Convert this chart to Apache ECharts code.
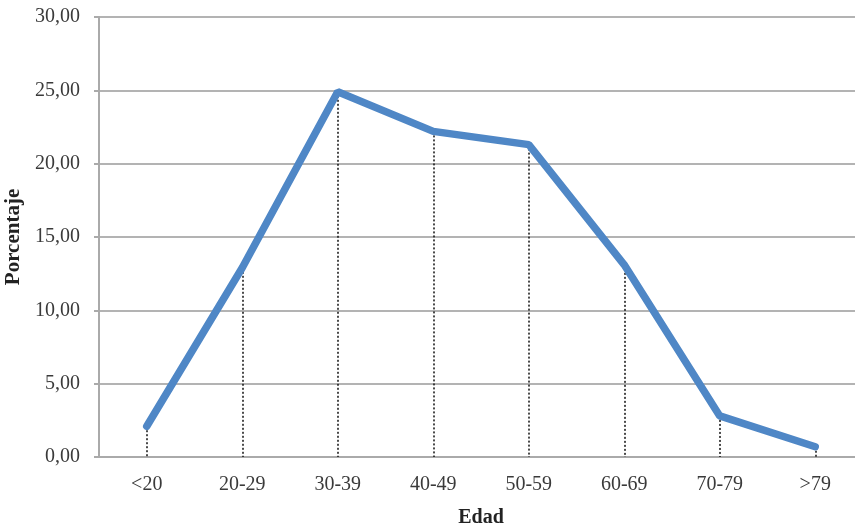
<!DOCTYPE html>
<html>
<head>
<meta charset="utf-8">
<script src="https://cdn.jsdelivr.net/npm/echarts@6/dist/echarts.min.js"></script>
<style>
  html, body { margin: 0; padding: 0; background: #fff; }
  #chart { width: 855px; height: 526px; }
</style>
</head>
<body>
<div id="chart"></div>
<script>
// Age groups and share of cases (%)
const categories = ['<20', '20-29', '30-39', '40-49', '50-59', '60-69', '70-79', '>79'];
const percentages = [2.1, 12.9, 24.9, 22.2, 21.3, 13.1, 2.8, 0.7];
const yTicks = { min: 0, max: 30, interval: 5 };

const font = '"Liberation Serif", "Times New Roman", serif';

// Dotted drop lines from each point down to the category axis
const dropLines = percentages.map((v, i) => [
  { coord: [i, v] },
  { coord: [i, 0] }
]);

const chart = echarts.init(document.getElementById('chart'), null, { renderer: 'canvas' });
chart.setOption({
  animation: false,
  backgroundColor: '#ffffff',
  grid: { left: 99, top: 17, bottom: 69, right: -8, containLabel: false, outerBoundsMode: 'none' },
  xAxis: {
    type: 'category',
    data: categories,
    boundaryGap: true,
    name: 'Edad',
    nameLocation: 'middle',
    nameGap: 51,
    nameTextStyle: { fontFamily: font, fontWeight: 'bold', fontSize: 20, color: '#222' },
    axisLine: { lineStyle: { color: '#aaaaaa', width: 2 } },
    axisTick: { show: false },
    axisLabel: { fontFamily: font, fontSize: 20, color: '#3a3a3a', margin: 18 },
    splitLine: { show: false }
  },
  yAxis: {
    type: 'value',
    min: yTicks.min,
    max: yTicks.max,
    interval: yTicks.interval,
    name: 'Porcentaje',
    nameLocation: 'middle',
    nameGap: 68,
    nameRotate: 90,
    nameTextStyle: { fontFamily: font, fontWeight: 'bold', fontSize: 21, color: '#222' },
    axisLine: { show: true, lineStyle: { color: '#aaaaaa', width: 2 } },
    axisTick: { show: true, length: 5, lineStyle: { color: '#aaaaaa', width: 2 } },
    axisLabel: {
      fontFamily: font, fontSize: 20, color: '#3a3a3a', margin: 19,
      formatter: v => v.toFixed(2).replace('.', ',')
    },
    splitLine: { show: true, lineStyle: { color: '#b3b3b3', width: 2 } }
  },
  series: [{
    type: 'line',
    data: percentages,
    showSymbol: false,
    symbol: 'none',
    lineStyle: { color: '#4F87C6', width: 7.5, cap: 'round' },
    z: 3,
    markLine: {
      silent: true,
      symbol: ['none', 'none'],
      label: { show: false },
      lineStyle: { color: '#111', type: [2, 2], width: 1.5 },
      data: dropLines,
      z: 2
    }
  }]
});
</script>
</body>
</html>
